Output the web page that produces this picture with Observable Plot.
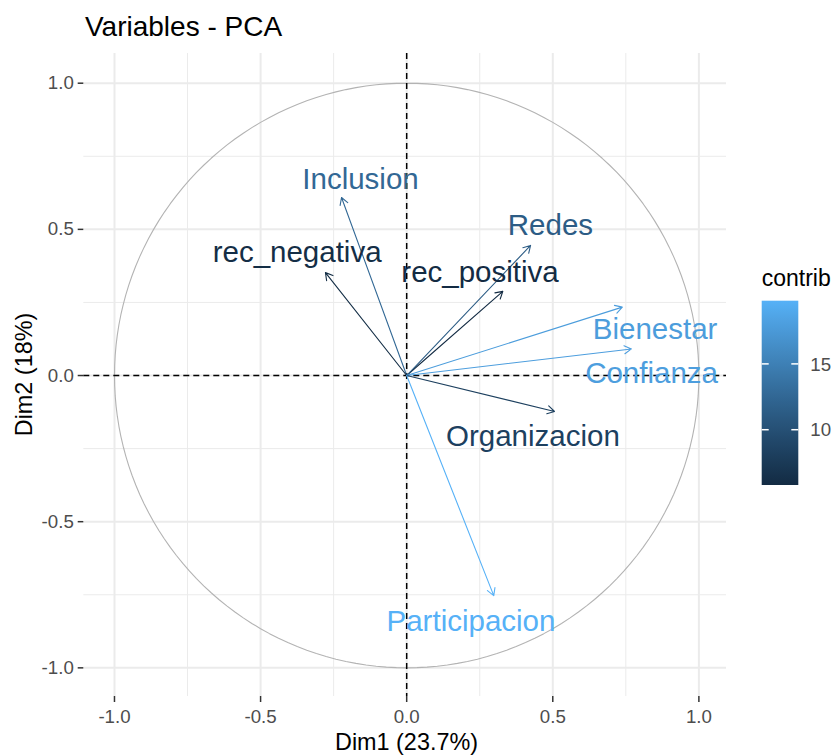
<!DOCTYPE html>
<html><head><meta charset="utf-8">
<script src="https://cdn.jsdelivr.net/npm/d3@7"></script>
<script src="https://cdn.jsdelivr.net/npm/@observablehq/plot@0.6"></script>
<style>body{margin:0;background:#fff;} svg{display:block}</style>
</head><body><div id="chart"></div>
<script>
const variables = ["Inclusion","rec_negativa","rec_positiva","Redes","Bienestar","Confianza","Organizacion","Participacion"];
const dim1 = [-0.223,-0.278,0.329,0.424,0.738,0.769,0.506,0.298];
const dim2 = [0.609,0.352,0.288,0.445,0.234,0.091,-0.123,-0.753];
const contrib = [12.6,6.1,5.8,11.3,17.9,18.0,8.2,19.8];
const labelDim1 = [-0.158,-0.375,0.251,0.492,0.850,0.838,0.432,0.220];
const labelDim2 = [0.672,0.421,0.352,0.513,0.157,0.007,-0.209,-0.842];
const majorTicks = [-1,-0.5,0,0.5,1];
const minorTicks = [-0.75,-0.25,0.25,0.75];
const tickLabels = ["-1.0","-0.5","0.0","0.5","1.0"];
const legendTicks = [10,15];
const titleText = "Variables - PCA";
const xTitle = "Dim1 (23.7%)";
const yTitle = "Dim2 (18%)";
const legendTitle = "contrib";

const rows = variables.map((v,i)=>({name:v,x:dim1[i],y:dim2[i],contrib:contrib[i],lx:labelDim1[i],ly:labelDim2[i]}));
const circle = d3.range(0,361,2).map(a=>({x:Math.cos(a*Math.PI/180), y:Math.sin(a*Math.PI/180)}));
const cDomain = d3.extent(contrib);
const lowCol = "#132B43", highCol = "#56B1F7";
const font = "'Liberation Sans', Arial, sans-serif";

const chart = Plot.plot({
  width: 835, height: 755,
  marginLeft: 83.3, marginRight: 109, marginTop: 53, marginBottom: 59,
  x: {domain: [-1.105, 1.0945]},
  y: {domain: [-1.098, 1.1016]},
  color: {type: "linear", domain: cDomain, range: [lowCol, highCol], interpolate: "lab"},
  style: {fontFamily: font, background: "#fff", color: "#000"},
  marks: [
    Plot.ruleX(minorTicks, {stroke: "#EBEBEB", strokeWidth: 1}),
    Plot.ruleY(minorTicks, {stroke: "#EBEBEB", strokeWidth: 1}),
    Plot.ruleX(majorTicks, {stroke: "#EBEBEB", strokeWidth: 2}),
    Plot.ruleY(majorTicks, {stroke: "#EBEBEB", strokeWidth: 2}),
    Plot.line(circle, {x: "x", y: "y", stroke: "#B3B3B3", strokeWidth: 1.1}),
    Plot.ruleX([0], {stroke: "#000", strokeWidth: 1.5, strokeDasharray: "6,4"}),
    Plot.ruleY([0], {stroke: "#000", strokeWidth: 1.5, strokeDasharray: "6,4"}),
    Plot.arrow(rows, {x1: () => 0, y1: () => 0, x2: "x", y2: "y", stroke: "contrib", strokeWidth: 1.1, headLength: 11, headAngle: 60}),
    Plot.text(rows, {x: "lx", y: "ly", text: "name", fill: "contrib", fontSize: 29.5}),
    Plot.axisX(majorTicks, {tickSize: 6, tickPadding: 7, fontSize: 18.7, label: null, tickFormat: d => tickLabels[majorTicks.indexOf(d)], strokeWidth: 1.5}),
    Plot.axisY(majorTicks, {tickSize: 5.6, tickPadding: 4.4, fontSize: 18.7, label: null, tickFormat: d => tickLabels[majorTicks.indexOf(d)], strokeWidth: 1.5})
  ]
});

const svg = d3.select(chart);
svg.selectAll('[aria-label="x-axis tick label"], [aria-label="y-axis tick label"]').attr("fill", "#4D4D4D");
svg.selectAll('[aria-label="x-axis tick"], [aria-label="y-axis tick"]').attr("stroke", "#333333");

// titles
svg.append("text").attr("x", 85).attr("y", 36).attr("text-anchor", "start").attr("font-size", 28).attr("font-family", font).attr("fill", "#000").text(titleText);
svg.append("text").attr("x", 406.5).attr("y", 750).attr("text-anchor", "middle").attr("font-size", 23.4).attr("font-family", font).attr("fill", "#000").text(xTitle);
svg.append("text").attr("transform", "translate(31.5,374.5) rotate(-90)").attr("text-anchor", "middle").attr("font-size", 23.4).attr("font-family", font).attr("fill", "#000").text(yTitle);

// legend
const lx0 = 761.7, lw = 36.6, ly0 = 300.7, lh = 184.3;
const ls = d3.scaleLinear().domain(cDomain).range([ly0 + lh, ly0]);
const defs = svg.append("defs");
const grad = defs.append("linearGradient").attr("id", "cgrad").attr("x1", 0).attr("y1", 1).attr("x2", 0).attr("y2", 0);
const interp = d3.interpolateLab(lowCol, highCol);
d3.range(0, 1.0001, 0.05).forEach(t => grad.append("stop").attr("offset", t).attr("stop-color", interp(t)));
svg.append("text").attr("x", lx0).attr("y", 286).attr("text-anchor", "start").attr("font-size", 23).attr("font-family", font).attr("fill", "#000").text(legendTitle);
svg.append("rect").attr("x", lx0).attr("y", ly0).attr("width", lw).attr("height", lh).attr("fill", "url(#cgrad)");
legendTicks.forEach(t => {
  const yy = ls(t);
  svg.append("line").attr("x1", lx0).attr("x2", lx0 + 7).attr("y1", yy).attr("y2", yy).attr("stroke", "#fff").attr("stroke-width", 1.5);
  svg.append("line").attr("x1", lx0 + lw - 7).attr("x2", lx0 + lw).attr("y1", yy).attr("y2", yy).attr("stroke", "#fff").attr("stroke-width", 1.5);
  svg.append("text").attr("x", lx0 + lw + 12).attr("y", yy).attr("dy", "0.36em").attr("text-anchor", "start").attr("font-size", 18.7).attr("font-family", font).attr("fill", "#4D4D4D").text(String(t));
});

document.getElementById("chart").appendChild(chart);
</script>
</body></html>
